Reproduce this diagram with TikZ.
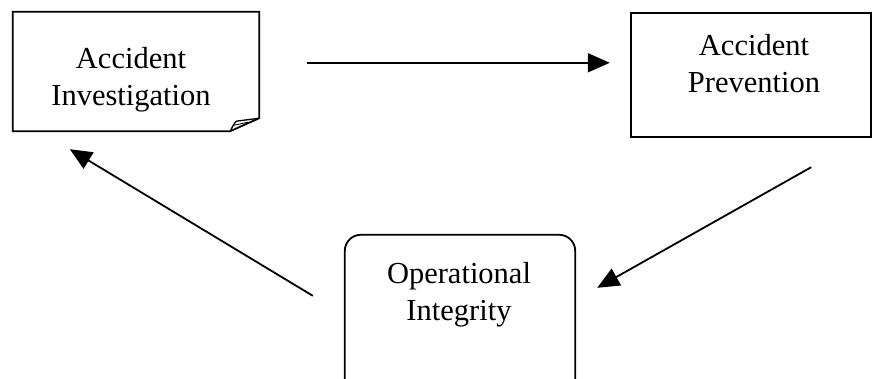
\documentclass[tikz,border=0pt]{standalone}
\usepackage{fontspec}
\setmainfont{Liberation Serif}
\usetikzlibrary{arrows.meta,calc}

\tikzset{
  boxline/.style={line width=1.8pt, line join=miter},
  boxlabel/.style={font=\fontsize{30.5}{37}\selectfont, align=center, inner sep=0pt, anchor=base},
  flow/.style={line width=1.8pt, -{Triangle[length=22pt,width=19pt]}},
  frame/.style={draw=none, inner sep=0pt, minimum width=#1},
}

\begin{document}
\begin{tikzpicture}[x=1pt, y=-1pt]
  \useasboundingbox (0,0) rectangle (873,378);
  \clip (0,0) rectangle (873,378);
  \fill[white] (0,0) rectangle (873,378);

  % frames of the three boxes
  \node[frame=246pt, minimum height=119pt] (ai) at (136,71.5) {};
  \node[frame=240pt, minimum height=124pt] (ap) at (751,75) {};
  \node[frame=230pt, minimum height=170pt] (oi) at (460,320) {};

  % Accident Investigation: sheet with a curled lower right corner
  \draw[boxline] (ai.north west) -- (ai.north east) -- ($(ai.south east)+(0,-13)$)
    -- ($(ai.south east)+(-29,0)$) -- (ai.south west) -- cycle;
  \draw[line width=1.3pt, line join=round] ($(ai.south east)+(-29,0)$)
    .. controls ($(ai.south east)+(-26,-6)$) .. ($(ai.south east)+(-23,-10)$)
    -- ($(ai.south east)+(0,-13)$);
  \draw[line width=0.9pt] ($(ai.south east)+(-25,-6)$) -- ($(ai.south east)+(-11,-9)$);
  % the base anchor of a two-line label sits on its last baseline
  \node[boxlabel] (ai-text) at (131,105) {Accident\\Investigation};

  % Accident Prevention
  \draw[boxline] (ap.north west) rectangle (ap.south east);
  \node[boxlabel] (ap-text) at (754,92) {Accident\\Prevention};

  % Operational Integrity
  \draw[boxline, rounded corners=16pt] (oi.north west) rectangle (oi.south east);
  \node[boxlabel] (oi-text) at (459,320) {Operational\\Integrity};

  % cycle connectors
  \coordinate (a1s) at ($(ai.north east)+(48,51)$);
  \coordinate (a1e) at ($(ap.north west)+(-21,50)$);
  \coordinate (a2s) at ($(ap.south east)+(-60,30)$);
  \coordinate (a2e) at ($(oi.north east)+(22,53)$);
  \coordinate (a3s) at ($(oi.north west)+(-32,61)$);
  \coordinate (a3e) at ($(ai.south west)+(57,18)$);
  \draw[flow] (a1s) -- (a1e);
  \draw[flow] (a2s) -- (a2e);
  \draw[flow] (a3s) -- (a3e);
\end{tikzpicture}
\end{document}
